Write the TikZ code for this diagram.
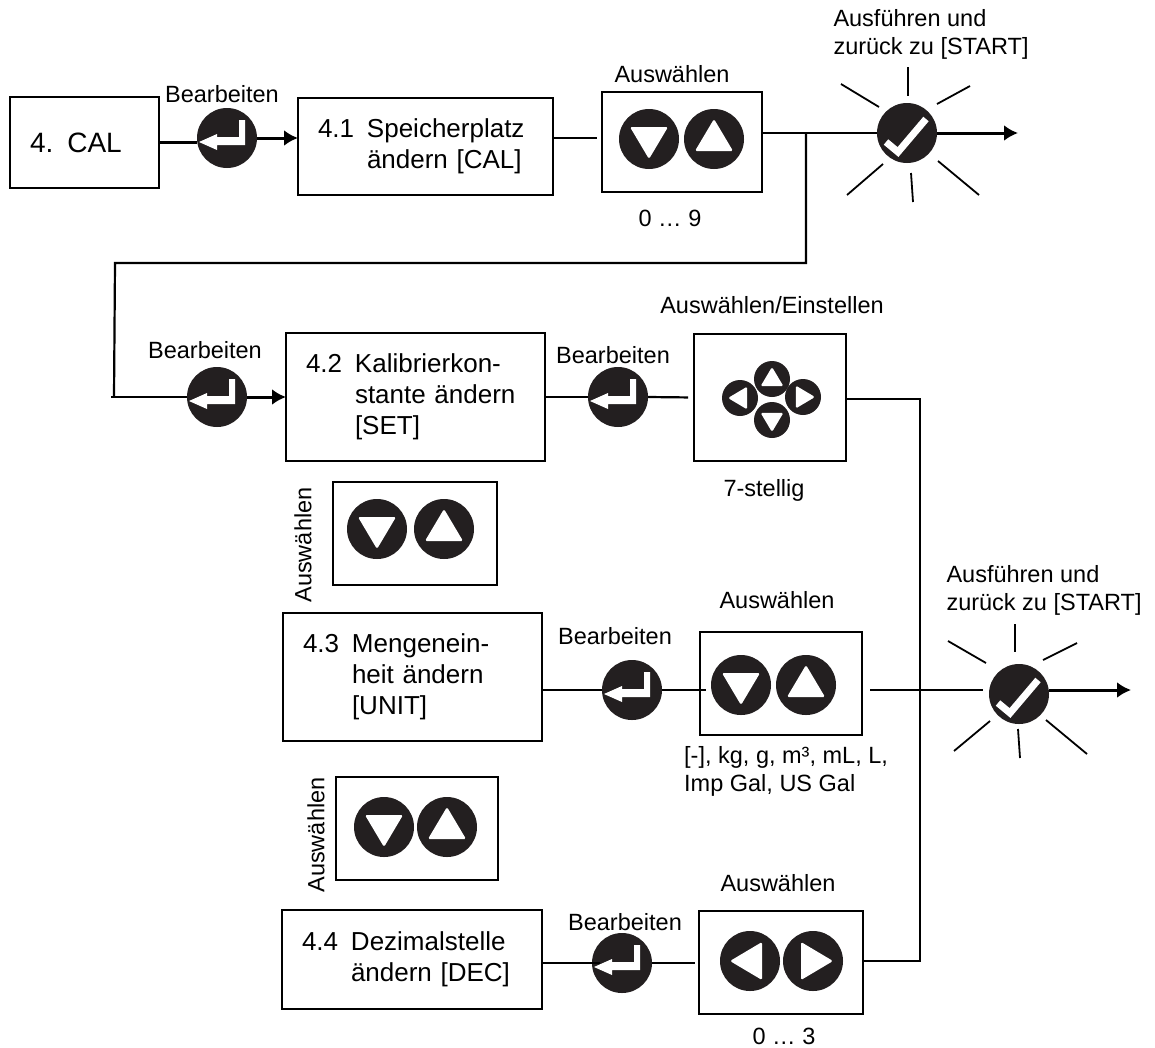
\documentclass[tikz,border=0pt]{standalone}
\usepackage{fontspec}
\setmainfont{Liberation Sans}
\usetikzlibrary{arrows.meta}

\definecolor{keyblack}{HTML}{231F20}

\newcommand{\steptext}[2]{\raisebox{-10pt}{\begin{tabular}[t]{@{}p{49pt}@{}l@{}}#1&\begin{tabular}[t]{@{}l@{}}#2\end{tabular}\end{tabular}}}

\tikzset{
  stepbox/.style={draw,line width=2.4pt,outer sep=0pt,inner xsep=20pt,inner ysep=0pt,align=left,font=\fontsize{26}{31}\selectfont},
  selbox/.style={draw,line width=2.4pt,outer sep=0pt},
  caption/.style={inner sep=0pt,font=\fontsize{23.5}{28}\selectfont,align=left},
  keybtn/.style={circle,fill=keyblack,inner sep=0pt,outer sep=0pt,minimum size=60pt},
  arrowbtn/.style n args={3}{keybtn,minimum size=#1*60pt,path picture={
    \fill[white,rounded corners=1.5pt,shift={(path picture bounding box.center)}]
      ({#1*20*#2},{#1*20*#3})--({#1*(-12*#2+19*#3)},{#1*(-12*#3-19*#2)})--({#1*(-12*#2-19*#3)},{#1*(-12*#3+19*#2)})--cycle;}},
  enterbtn/.style={keybtn,path picture={
    \fill[white,shift={(path picture bounding box.center)}]
      (-28,4)--(-10,-4)--(-10,-1)--(12,-1)--(12,-18)--(18,-18)--(18,7)--(-10,7)--(-10,12)--cycle;}},
  okbtn/.style={keybtn,path picture={
    \draw[white,line width=7pt,shift={(path picture bounding box.center)}]
      (-21,9)--(-9,19)--(19,-14);}},
  wire/.style={line width=2.2pt},
  flow/.style={line width=3pt,-{Latex[length=14pt,width=16pt]}},
  ray/.style={line width=1.8pt}
}

\begin{document}
\begin{tikzpicture}[x=1pt,y=-1pt]
\useasboundingbox (0,0) rectangle (1155,1047);

% first row
\node[stepbox,text width=109pt,minimum height=91pt,font=\fontsize{28}{34}\selectfont] (cal) at (84.5,142.5) {4. CAL};
\node[enterbtn] (enterA) at (227,138) {};
\node[caption] (editA) at (222,94) {Bearbeiten};
\node[stepbox,text width=215pt,minimum height=97pt] (calA) at (425.5,146.5) {\steptext{4.1}{Speicherplatz\\ändern [CAL]}};
\node[selbox,minimum width=160pt,minimum height=100pt] (selA) at (682,142) {};
\node[arrowbtn={1}{0}{1}] (downA) at (649,139) {};
\node[arrowbtn={1}{0}{-1}] (upA) at (714,139) {};
\node[caption] (chooseA) at (672,74) {Auswählen};
\node[caption] (rangeA) at (670,218) {0 … 9};
\node[okbtn] (okA) at (907,133) {};
\node[caption] (doneA) at (931,34) {Ausführen und\\zurück zu [START]};

% second row
\node[enterbtn] (enterB) at (217,397) {};
\node[caption] (editB) at (205,350) {Bearbeiten};
\node[stepbox,text width=219pt,minimum height=128pt] (calB) at (415.5,397) {\steptext{4.2}{Kalibrierkon-\\stante ändern\\{[SET]}}};
\node[enterbtn] (enterC) at (618,397) {};
\node[caption] (editC) at (613,355) {Bearbeiten};
\node[selbox,minimum width=152pt,minimum height=127pt] (selB) at (770,397.5) {};
\node[arrowbtn={0.6}{0}{-1}] (upB) at (772,379) {};
\node[arrowbtn={0.6}{0}{1}] (downB) at (772,420) {};
\node[arrowbtn={0.6}{-1}{0}] (leftB) at (740,398) {};
\node[arrowbtn={0.6}{1}{0}] (rightB) at (803,397) {};
\node[caption] (chooseB) at (772,305) {Auswählen/Einstellen};
\node[caption] (rangeB) at (764,490) {7-stellig};

% third row
\node[selbox,minimum width=164pt,minimum height=103pt] (selC) at (415,533.5) {};
\node[arrowbtn={1}{0}{1}] (downC) at (377,529) {};
\node[arrowbtn={1}{0}{-1}] (upC) at (444,529) {};
\node[caption,rotate=90] (chooseC) at (303,545) {Auswählen};
\node[stepbox,text width=219pt,minimum height=128pt] (calC) at (412.5,677) {\steptext{4.3}{Mengenein-\\heit ändern\\{[UNIT]}}};
\node[enterbtn] (enterD) at (632,690) {};
\node[caption] (editD) at (615,636) {Bearbeiten};
\node[selbox,minimum width=162pt,minimum height=103pt] (selD) at (781,683.5) {};
\node[arrowbtn={1}{0}{1}] (downD) at (741,685) {};
\node[arrowbtn={1}{0}{-1}] (upD) at (806,685) {};
\node[caption] (chooseD) at (777,600) {Auswählen};
\node[caption,anchor=west] (rangeD) at (684,771) {[-], kg, g, m³, mL, L,\\Imp Gal, US Gal};
\node[okbtn] (okB) at (1019,694) {};
\node[caption] (doneB) at (1044,590) {Ausführen und\\zurück zu [START]};

% fourth row
\node[selbox,minimum width=162pt,minimum height=103pt] (selE) at (417,828.5) {};
\node[arrowbtn={1}{0}{1}] (downE) at (384,827) {};
\node[arrowbtn={1}{0}{-1}] (upE) at (447,827) {};
\node[caption,rotate=90] (chooseE) at (316,835) {Auswählen};
\node[stepbox,text width=220pt,minimum height=99pt] (calD) at (412,959.5) {\steptext{4.4}{Dezimalstelle\\ändern [DEC]}};
\node[enterbtn] (enterE) at (622,963) {};
\node[caption] (editE) at (625,922) {Bearbeiten};
\node[selbox,minimum width=164pt,minimum height=103pt] (selF) at (781,962.5) {};
\node[arrowbtn={1}{-1}{0}] (leftF) at (750,961) {};
\node[arrowbtn={1}{1}{0}] (rightF) at (813,961) {};
\node[caption] (chooseF) at (778,883) {Auswählen};
\node[caption] (rangeF) at (784,1036) {0 … 3};

\coordinate (busA) at (806,133);
\coordinate (busB) at (806,263);
\coordinate (busC) at (115,263);
\coordinate (busD) at (114,397);
\coordinate (busE) at (111,397);
\coordinate (railA) at (920,399);
\coordinate (railB) at (920,961);

\draw[wire] (cal.east) -- (cal.east -| enterA.west);
\draw[flow] (enterA.east) -- (enterA.east -| calA.west);
\draw[wire,shorten >=5pt] (enterA -| calA.east) -- (enterA -| selA.west);
\draw[wire] (okA -| selA.east) -- (okA.west);
\draw[flow] (okA.east) -- ++(81,0) coordinate (exitA);
\draw[wire] (busA) -- (busB) -- (busC) -- (busD);
\draw[wire] (busE) -- (enterB.west);
\draw[flow] (enterB.east) -- (calB.west);
\draw[wire] (calB.east) -- (enterC.west);
\draw[wire,shorten >=6pt] (enterC.east) -- (selB.west);
\draw[wire] (selB.east |- railA) -- (railA) -- (railB) -- (selF.east |- railB);
\draw[wire] (enterD -| calC.east) -- (enterD.west);
\draw[wire,shorten >=-6pt] (enterD.east) -- (enterD -| selD.west);
\draw[wire,shorten <=8pt,shorten >=6pt] (enterD -| selD.east) -- (enterD -| okB.west);
\draw[flow] (okB.east |- enterD) -- ++(82,0) coordinate (exitB);
\draw[wire,shorten >=-8pt] (enterE -| calD.east) -- (enterE.west);
\draw[wire,shorten >=4pt] (enterE.east) -- (enterE -| selF.west);

\foreach \a/\b/\c/\d in {1/-66/1/-37,-66/-49/-28/-26,63/-47/30/-29,-60/62/-24/31,4/40/6/69,31/28/72/62}
  \draw[ray] ([shift={(\a,\b)}]okA.center) -- ([shift={(\c,\d)}]okA.center);
\foreach \a/\b/\c/\d in {-4/-70/-4/-42,-71/-53/-33/-31,58/-51/24/-34,-65/57/-29/27,-1/35/1/64,27/26/68/60}
  \draw[ray] ([shift={(\a,\b)}]okB.center) -- ([shift={(\c,\d)}]okB.center);

\end{tikzpicture}
\end{document}
